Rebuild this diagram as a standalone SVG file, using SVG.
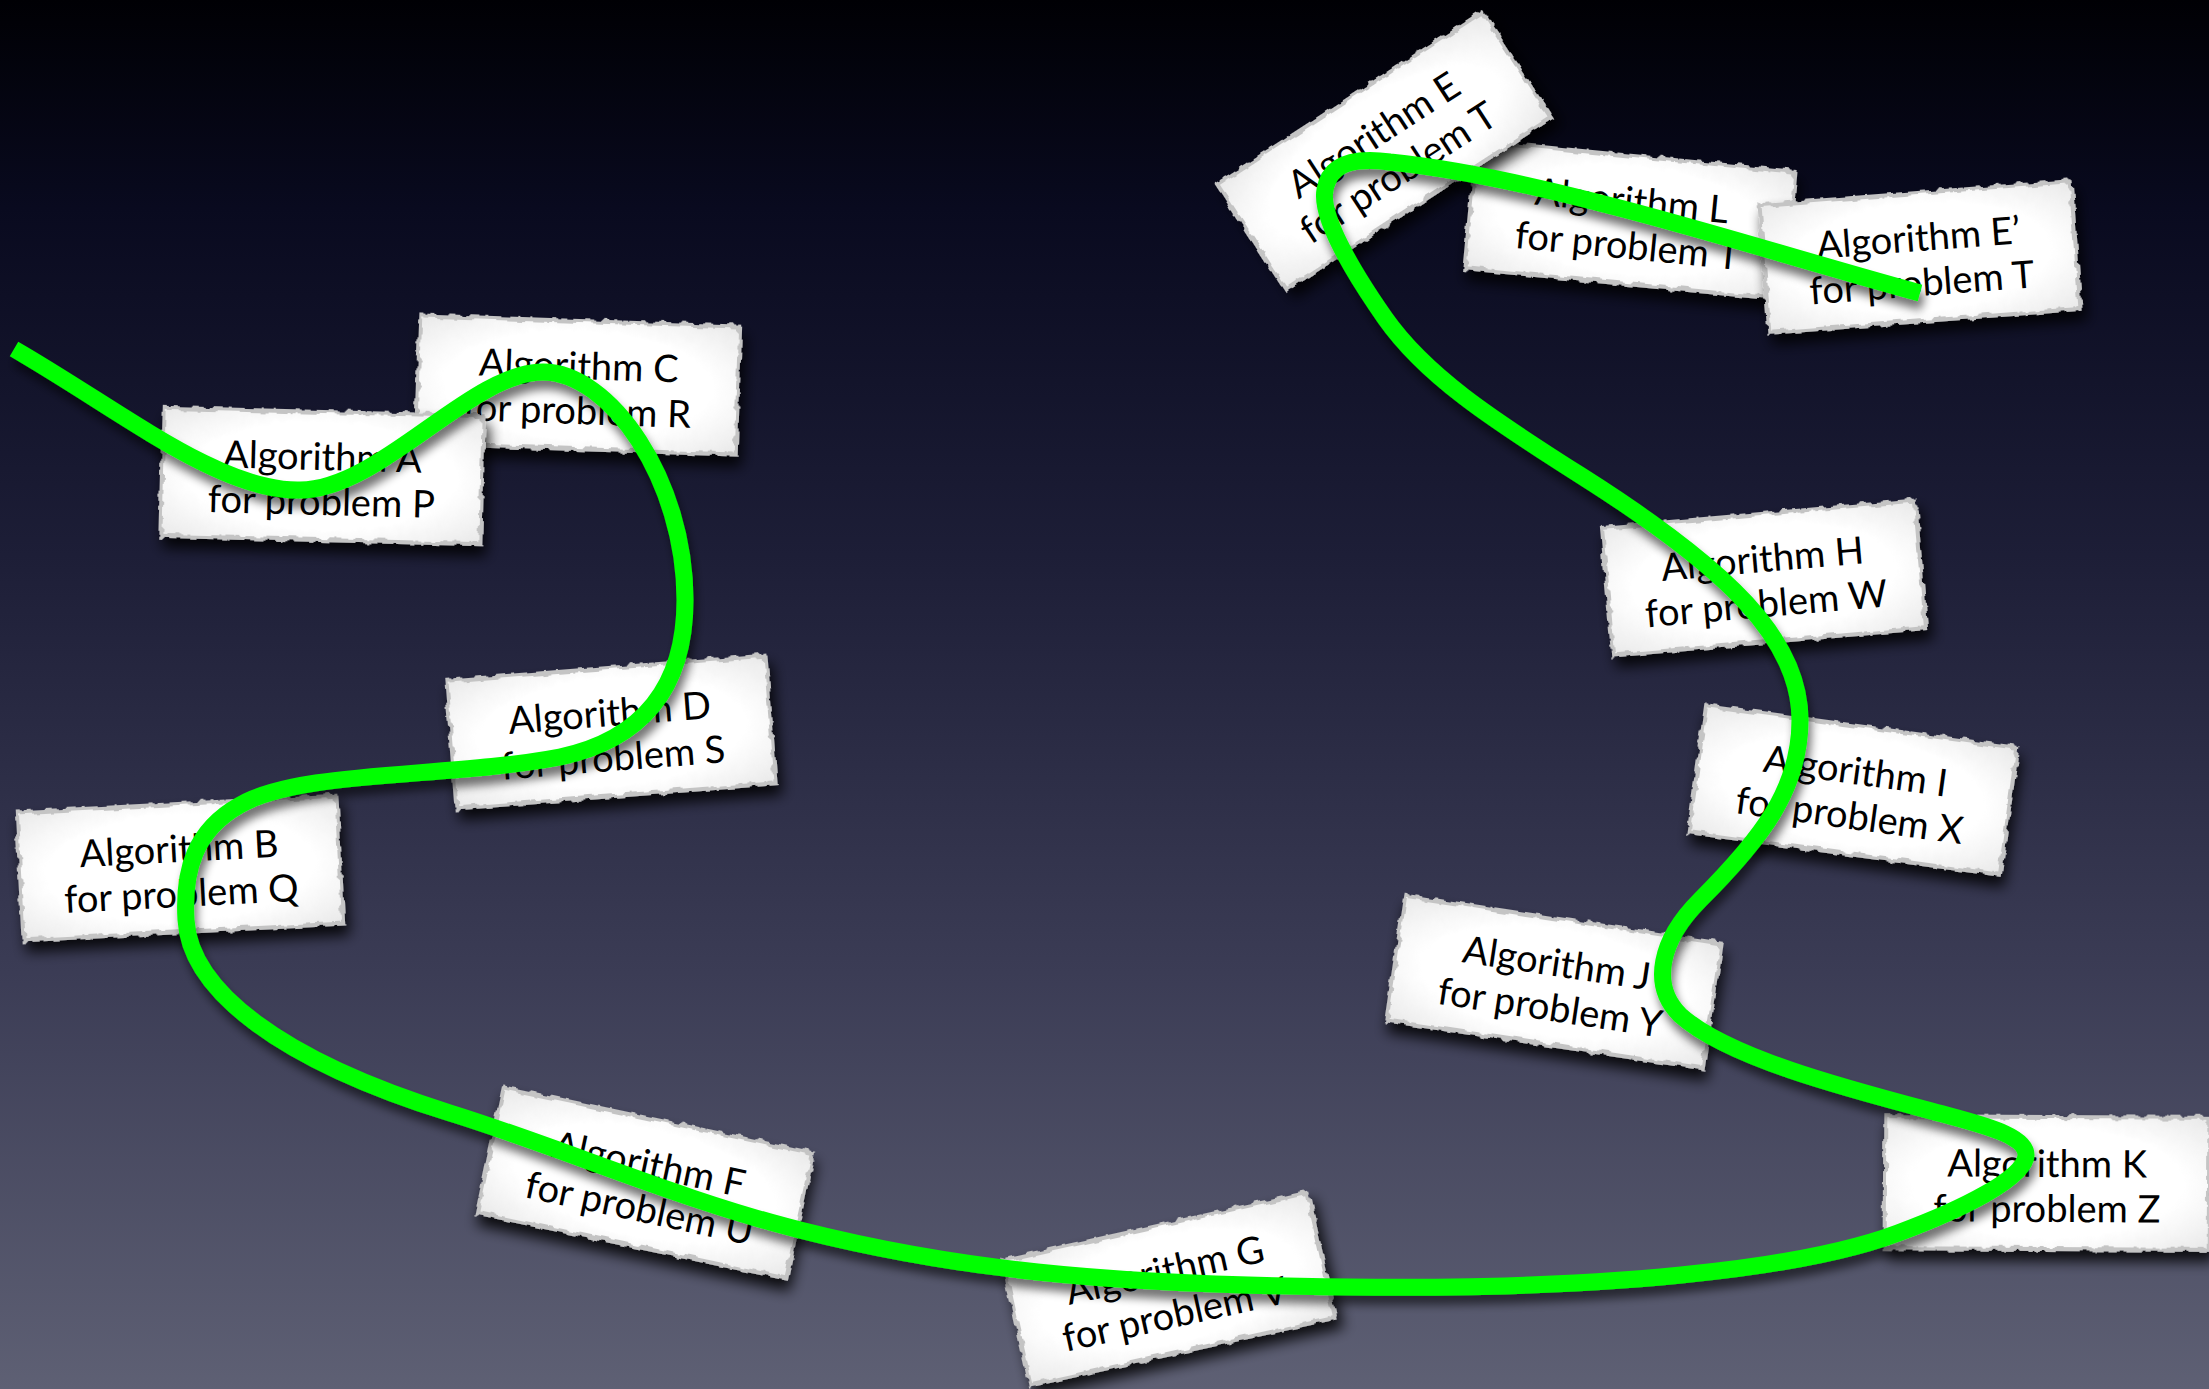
<svg xmlns="http://www.w3.org/2000/svg" width="2209" height="1389" viewBox="0 0 2209 1389">
  <defs>
    <linearGradient id="bg" x1="0" y1="0" x2="0" y2="1">
      <stop offset="0" stop-color="#000004"/>
      <stop offset="0.15" stop-color="#090a1f"/>
      <stop offset="0.4" stop-color="#1d1e37"/>
      <stop offset="0.7" stop-color="#3b3c55"/>
      <stop offset="1" stop-color="#5e6074"/>
    </linearGradient>
    <radialGradient id="paper" cx="0.5" cy="0.5" r="0.7">
      <stop offset="0.6" stop-color="#ffffff"/>
      <stop offset="1" stop-color="#e9e9e9"/>
    </radialGradient>
    <!-- ragged paper edge plus soft drop shadow -->
    <filter id="torn" x="-15%" y="-25%" width="135%" height="160%">
      <feTurbulence type="fractalNoise" baseFrequency="0.09 0.09" numOctaves="2" seed="7" result="noise"/>
      <feDisplacementMap in="SourceGraphic" in2="noise" scale="7" xChannelSelector="R" yChannelSelector="G" result="rough"/>
      <feGaussianBlur in="rough" stdDeviation="0.6" result="soft"/>
      <feGaussianBlur in="SourceAlpha" stdDeviation="7" result="sb"/>
      <feOffset in="sb" dx="4" dy="10" result="so"/>
      <feComponentTransfer in="so" result="shadow">
        <feFuncA type="linear" slope="0.85"/>
      </feComponentTransfer>
      <feMerge>
        <feMergeNode in="shadow"/>
        <feMergeNode in="soft"/>
      </feMerge>
    </filter>
    <filter id="lineShadow" x="-5%" y="-5%" width="110%" height="115%">
      <feGaussianBlur in="SourceAlpha" stdDeviation="5" result="b"/>
      <feOffset in="b" dx="3" dy="9" result="o"/>
      <feComponentTransfer in="o" result="s">
        <feFuncA type="linear" slope="0.55"/>
      </feComponentTransfer>
      <feMerge>
        <feMergeNode in="s"/>
        <feMergeNode in="SourceGraphic"/>
      </feMerge>
    </filter>
    <style>
      .card rect { fill: url(#paper); stroke: #c4c4c4; stroke-width: 4; filter: url(#torn); }
      .card text { font-family: "Lato", "Open Sans", "Liberation Sans", sans-serif; font-size: 38px; fill: #000; text-anchor: middle; }
      .path { fill: none; stroke: #00ff00; stroke-width: 17; stroke-linecap: butt; stroke-linejoin: round; filter: url(#lineShadow); }
    </style>
  </defs>

  <rect x="0" y="0" width="2209" height="1389" fill="url(#bg)"/>

  <g id="cards">
    <g id="card-c" class="card" transform="translate(578,385) rotate(2)">
      <rect x="-160" y="-64" width="320" height="128"/>
      <text y="-6">Algorithm C</text><text y="39">for problem R</text>
    </g>
    <g id="card-a" class="card" transform="translate(322,476) rotate(1.5)">
      <rect x="-160" y="-64" width="320" height="128"/>
      <text y="-6">Algorithm A</text><text y="39">for problem P</text>
    </g>
    <g id="card-d" class="card" transform="translate(611,732) rotate(-4.5)">
      <rect x="-160" y="-64" width="320" height="128"/>
      <text y="-6">Algorithm D</text><text y="39">for problem S</text>
    </g>
    <g id="card-b" class="card" transform="translate(180,868) rotate(-3)">
      <rect x="-160" y="-64" width="320" height="128"/>
      <text y="-6">Algorithm B</text><text y="39">for problem Q</text>
    </g>
    <g id="card-f" class="card" transform="translate(645,1183) rotate(12)">
      <rect x="-158" y="-64" width="316" height="128"/>
      <text y="-6">Algorithm F</text><text y="39">for problem U</text>
    </g>
    <g id="card-g" class="card" transform="translate(1169,1289) rotate(-12.5)">
      <rect x="-156" y="-64" width="312" height="128"/>
      <text y="-6">Algorithm G</text><text y="39">for problem V</text>
    </g>
    <g id="card-l" class="card" transform="translate(1630,220) rotate(5.6)">
      <rect x="-160" y="-64" width="320" height="128"/>
      <text y="-6">Algorithm L</text><text y="39">for problem T</text>
    </g>
    <g id="card-e2" class="card" transform="translate(1920,257) rotate(-4.4)">
      <rect x="-156" y="-64" width="312" height="128"/>
      <text y="-6">Algorithm E’</text><text y="39">for problem T</text>
    </g>
    <g id="card-e" class="card" transform="translate(1384,151) rotate(-33)">
      <rect x="-158" y="-63" width="316" height="126"/>
      <text y="-6">Algorithm E</text><text y="39">for problem T</text>
    </g>
    <g id="card-h" class="card" transform="translate(1764,578) rotate(-5)">
      <rect x="-157" y="-64" width="314" height="128"/>
      <text y="-6">Algorithm H</text><text y="39">for problem W</text>
    </g>
    <g id="card-i" class="card" transform="translate(1853,790) rotate(7.8)">
      <rect x="-157" y="-64" width="314" height="128"/>
      <text y="-6">Algorithm I</text><text y="39">for problem X</text>
    </g>
    <g id="card-j" class="card" transform="translate(1554,982) rotate(8.6)">
      <rect x="-160" y="-63" width="320" height="126"/>
      <text y="-6">Algorithm J</text><text y="39">for problem Y</text>
    </g>
    <g id="card-k" class="card" transform="translate(2047,1183) rotate(0.3)">
      <rect x="-162" y="-66" width="324" height="132"/>
      <text y="-6">Algorithm K</text><text y="39">for problem Z</text>
    </g>
  </g>

  <g id="connectors">
    <path class="path" d="M 14,349
      C 120,410 220,492 300,490
      C 380,490 470,372 543,372
      C 610,372 685,480 685,600
      C 685,690 640,740 560,757
      C 450,778 300,770 240,805
      C 195,830 183,870 186,920
      C 190,990 280,1060 450,1113
      C 560,1147 680,1200 800,1230
      C 950,1268 1100,1285 1350,1287
      C 1600,1290 1800,1270 1898,1233
      C 1960,1210 2026,1178 2026,1155
      C 2026,1138 1995,1128 1950,1116
      C 1860,1092 1730,1060 1680,1015
      C 1650,985 1660,940 1700,900
      C 1760,840 1800,790 1800,720
      C 1800,640 1730,570 1580,475
      C 1490,418 1425,375 1385,318
      C 1350,268 1320,215 1325,190
      C 1330,160 1360,158 1390,162
      C 1450,168 1530,185 1600,203
      C 1700,228 1800,260 1920,293"/>
  </g>
</svg>
